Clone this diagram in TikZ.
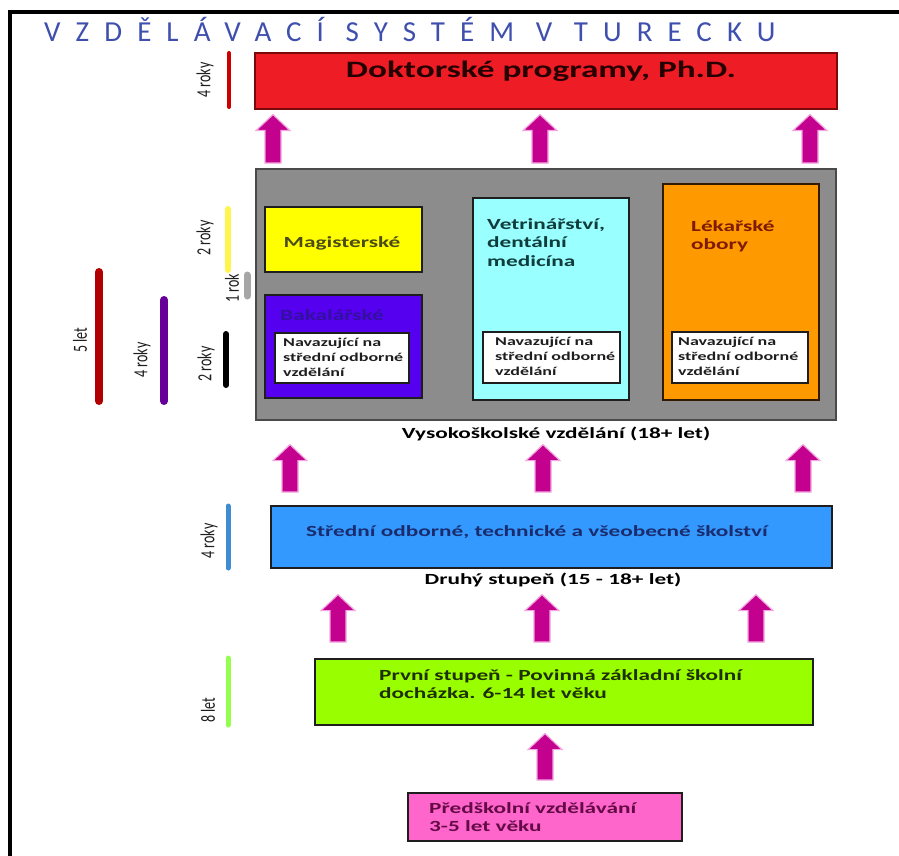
\documentclass[tikz,border=0pt]{standalone}
\usepackage{fontspec}
\setmainfont{Carlito}[FakeStretch=1.5]
\newfontfamily\titlefont{Carlito}[LetterSpace=52]
\newfontfamily\barfont{Carlito}[FakeStretch=0.7]
\usepackage{tikz}
\usetikzlibrary{calc}
\definecolor{TRTitle}{HTML}{3F4FAE}
\definecolor{TRRed}{HTML}{EE1C25}
\definecolor{TRRedLine}{HTML}{7A0A0A}
\definecolor{TRGray}{HTML}{8C8C8C}
\definecolor{TRGrayLine}{HTML}{4A4A4A}
\definecolor{TRYellow}{HTML}{FFFF00}
\definecolor{TRPurple}{HTML}{5500EE}
\definecolor{TRPurpleText}{HTML}{3210A0}
\definecolor{TRCyan}{HTML}{99FFFF}
\definecolor{TRCyanText}{HTML}{103C3C}
\definecolor{TROrange}{HTML}{FF9900}
\definecolor{TROrangeText}{HTML}{7E1A00}
\definecolor{TRBlue}{HTML}{3399FF}
\definecolor{TRBlueText}{HTML}{1A2C6E}
\definecolor{TRGreen}{HTML}{99FF00}
\definecolor{TRGreenText}{HTML}{1E3000}
\definecolor{TRPink}{HTML}{FF66CC}
\definecolor{TRPinkText}{HTML}{640A46}
\definecolor{TRArrow}{HTML}{C4008E}
\definecolor{TRGlow}{HTML}{F2A6E0}
\definecolor{TRDark}{HTML}{1E1E1E}

\begin{document}
\begin{tikzpicture}[x=1pt,y=-1pt,
  stage/.style={anchor=north west,inner sep=0pt,line width=1.6pt},
  lbl/.style={inner sep=0pt,anchor=base,font=\bfseries\fontsize{15.5}{19}\selectfont},
  tall/.style={inner sep=0pt,align=left,anchor=north west,font=\bfseries\fontsize{15.5}{18.5}\selectfont},
  small/.style={inner sep=0pt,align=left,anchor=north west,font=\bfseries\fontsize{12}{15}\selectfont,text=TRDark},
  yrs/.style={rotate=90,inner sep=0pt,font=\barfont\fontsize{20}{20}\selectfont,text=TRDark},
  bar/.style={line width=#1,line cap=round},
  arrowfill/.style={fill=TRArrow,draw=TRGlow,line width=1.2pt},
  bigarrow/.style 2 args={to path={let \p1=(\tikztostart), \p2=(\tikztotarget) in
    (\x1-8pt,\y1+#1pt) -- (\x1-8pt,\y2-#2pt-16pt) -- (\x1-17pt,\y2-#2pt-16pt) -- (\x1,\y2-#2pt)
    -- (\x1+17pt,\y2-#2pt-16pt) -- (\x1+8pt,\y2-#2pt-16pt) -- (\x1+8pt,\y1+#1pt) -- cycle}}]
\path[use as bounding box] (0,0) rectangle (899,856);
\draw[line width=3.5pt] (10,856) -- (10,12) -- (899,12);
\node[anchor=base west,inner sep=0pt,text=TRTitle,font=\titlefont\fontsize{29}{29}\selectfont] (title) at (44,42) {VZDĚLÁVACÍ SYSTÉM V TURECKU};

% doktorat
\node[stage,fill=TRRed,draw=TRRedLine,minimum width=582,minimum height=56] (phd) at (254,52) {};
\node[lbl,text=black!85!red,font=\bfseries\fontsize{23.5}{23.5}\selectfont] (phdtext) at (541,78) {Doktorské programy, Ph.D.};

% vysoke skoly
\node[stage,fill=TRGray,draw=TRGrayLine,minimum width=580,minimum height=251] (hied) at (255,168) {};
\node[stage,fill=TRYellow,draw=TRDark,minimum width=157,minimum height=65] (mag) at (264,206) {};
\node[lbl,text=TRDark!80!yellow] (magtext) at (342,247) {Magisterské};
\node[stage,fill=TRPurple,draw=TRDark,minimum width=157,minimum height=103] (bak) at (264,294) {};
\node[lbl,text=TRPurpleText] (baktext) at (332,320) {Bakalářské};
\node[stage,fill=white,draw=TRDark,minimum width=134,minimum height=50] (bakw) at (274,332) {};
\node[small] (bakwtext) at (283,338) {Navazující na\\střední odborné\\vzdělání};
\node[stage,fill=TRCyan,draw=TRDark,minimum width=156,minimum height=202] (vet) at (472,197) {};
\node[tall,text=TRCyanText] (vettext) at (487,218) {Vetrinářství,\\dentální\\medicína};
\node[stage,fill=white,draw=TRDark,minimum width=137,minimum height=51] (vetw) at (482,331) {};
\node[small] (vetwtext) at (495,337) {Navazující na\\střední odborné\\vzdělání};
\node[stage,fill=TROrange,draw=black!80!orange,minimum width=156,minimum height=216] (lek) at (662,183) {};
\node[tall,text=TROrangeText] (lektext) at (691,220) {Lékařské\\obory};
\node[stage,fill=white,draw=TRDark,minimum width=136,minimum height=51] (lekw) at (671,331) {};
\node[small] (lekwtext) at (678,337) {Navazující na\\střední odborné\\vzdělání};
\node[lbl] (hiedlbl) at (556,438) {Vysokoškolské vzdělání (18+ let)};

% stredni skoly
\node[stage,fill=TRBlue,draw=TRDark,minimum width=561,minimum height=62] (sec) at (270,505) {};
\node[lbl,text=TRBlueText] (sectext) at (537,536) {Střední odborné, technické a všeobecné školství};
\node[lbl] (seclbl) at (553,584) {Druhý stupeň (15 - 18+ let)};

% zakladni a predskolni
\node[stage,fill=TRGreen,draw=TRDark,minimum width=498,minimum height=66] (prim) at (314,658) {};
\node[tall,text=TRGreenText] (primtext) at (379,669) {První stupeň - Povinná základní školní\\docházka. 6-14 let věku};
\node[stage,fill=TRPink,draw=TRDark,minimum width=274,minimum height=48] (pre) at (407,792) {};
\node[tall,text=TRPinkText] (pretext) at (429,802) {Předškolní vzdělávání\\3-5 let věku};

% sipky
\foreach \ax in {273,290,338,540,542,543,545,756,803,810}
  \coordinate (ax\ax) at (\ax,0);
\foreach \ax in {273,540,810}
  \fill[arrowfill,bigarrow={5}{5}] (hied.north -| ax\ax) to (phd.south -| ax\ax);
\foreach \ax in {290,543,803}
  \fill[arrowfill,bigarrow={13}{4}] (sec.north -| ax\ax) to (hiedlbl.south -| ax\ax);
\foreach \ax in {338,542,756}
  \fill[arrowfill,bigarrow={16}{8}] (prim.north -| ax\ax) to (seclbl.south -| ax\ax);
\fill[arrowfill,bigarrow={12}{8}] (pre.north -| ax545) to (prim.south -| ax545);

% delky studia
\draw[bar=4pt,red!80!black] (229,53) -- (229,107);
\node[yrs] (yphd) at (205,80) {4 roky};
\draw[bar=6pt,yellow!70!white] (228,209) -- (228,270);
\node[yrs] (ymag) at (205,238) {2 roky};
\draw[bar=7pt,gray!70] (247,275) -- (247,296);
\node[yrs] (yone) at (232,288) {1 rok};
\draw[bar=6pt,black] (226,334) -- (226,385);
\node[yrs] (ybak) at (206,364) {2 roky};
\draw[bar=8pt,red!70!black] (99,272) -- (99,401);
\node[yrs] (yfive) at (80,340) {5 let};
\draw[bar=8pt,violet!80!blue] (164,300) -- (164,401);
\node[yrs] (yfour) at (142,360) {4 roky};
\draw[bar=5pt,cyan!60!blue!80] (228,506) -- (228,568);
\node[yrs] (ysec) at (209,541) {4 roky};
\draw[bar=5pt,green!60!yellow!70] (228,658) -- (228,725);
\node[yrs] (yprim) at (208,710) {8 let};
\end{tikzpicture}
\end{document}
